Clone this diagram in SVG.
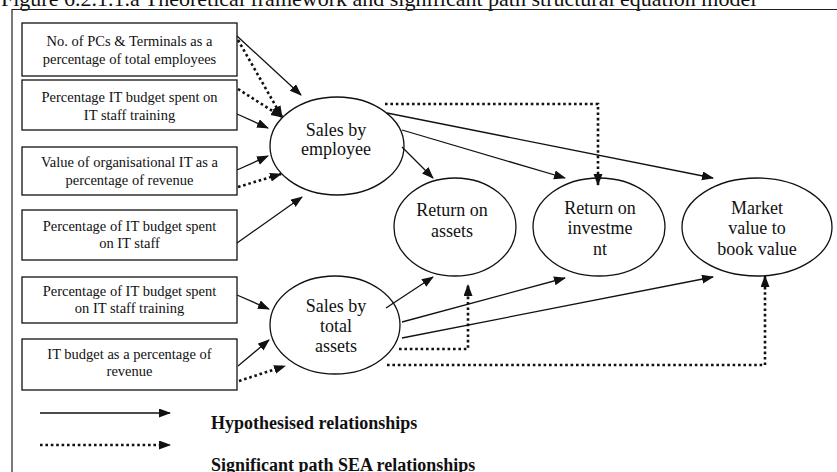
<svg xmlns="http://www.w3.org/2000/svg" width="837" height="472" viewBox="0 0 837 472">
  <style>
    .frame { fill: none; stroke: #222; stroke-width: 1.2; }
    .box { fill: #fff; stroke: #111; stroke-width: 1.3; }
    .node { fill: #fff; stroke: #111; stroke-width: 1.3; }
    .btxt { font-family: "Liberation Serif", "Times New Roman", serif; font-size: 14.5px; fill: #111; text-anchor: middle; }
    .etxt { font-family: "Liberation Serif", "Times New Roman", serif; font-size: 18px; fill: #111; text-anchor: middle; }
    .title { font-family: "Liberation Serif", "Times New Roman", serif; font-size: 22px; fill: #111; }
    .legend { font-family: "Liberation Serif", "Times New Roman", serif; font-size: 18px; font-weight: bold; fill: #111; }
    .hyp { fill: none; stroke: #111; stroke-width: 1.3; marker-end: url(#head); }
    .sig { fill: none; stroke: #111; stroke-width: 2.6; stroke-dasharray: 2.6 2.8; marker-end: url(#head); }
  </style>
  <defs>
    <marker id="head" markerUnits="userSpaceOnUse" markerWidth="14" markerHeight="10" refX="11" refY="4.5" orient="auto">
      <path d="M0,0 L12,4.5 L0,9 Z" fill="#111"/>
    </marker>
  </defs>

  <rect width="837" height="472" fill="#fff"/>

  <!-- caption -->
  <text class="title" x="1" y="6">Figure 6.2.1.1.a Theoretical framework and significant path structural equation model</text>

  <!-- outer frame -->
  <path class="frame" d="M12,472 L12,9.5 L837,9.5"/>

  <!-- indicator boxes -->
  <g id="pcs-terminals">
    <rect class="box" x="22" y="23" width="215" height="53"/>
    <text class="btxt" x="129.5" y="46">No. of PCs &amp; Terminals as a</text>
    <text class="btxt" x="129.5" y="64">percentage of total employees</text>
  </g>
  <g id="budget-training-1">
    <rect class="box" x="22" y="80" width="215" height="50"/>
    <text class="btxt" x="129.5" y="102">Percentage IT budget spent on</text>
    <text class="btxt" x="129.5" y="119.5">IT staff training</text>
  </g>
  <g id="organisational-it">
    <rect class="box" x="22" y="147" width="215" height="48"/>
    <text class="btxt" x="129.5" y="167">Value of organisational IT as a</text>
    <text class="btxt" x="129.5" y="184.5">percentage of revenue</text>
  </g>
  <g id="budget-staff">
    <rect class="box" x="22" y="210" width="215" height="50"/>
    <text class="btxt" x="129.5" y="231">Percentage of IT budget spent</text>
    <text class="btxt" x="129.5" y="248">on IT staff</text>
  </g>
  <g id="budget-training-2">
    <rect class="box" x="22" y="277" width="215" height="46"/>
    <text class="btxt" x="129.5" y="296">Percentage of IT budget spent</text>
    <text class="btxt" x="129.5" y="313">on IT staff training</text>
  </g>
  <g id="budget-revenue">
    <rect class="box" x="22" y="339" width="215" height="51"/>
    <text class="btxt" x="129.5" y="359">IT budget as a percentage of</text>
    <text class="btxt" x="129.5" y="376">revenue</text>
  </g>

  <!-- latent constructs -->
  <g id="sales-employee">
    <ellipse class="node" cx="337" cy="146" rx="67" ry="49"/>
    <text class="etxt" x="336" y="136">Sales by</text>
    <text class="etxt" x="336" y="155">employee</text>
  </g>
  <g id="sales-assets">
    <ellipse class="node" cx="335" cy="325" rx="65" ry="49"/>
    <text class="etxt" x="336" y="312">Sales by</text>
    <text class="etxt" x="336" y="332">total</text>
    <text class="etxt" x="336" y="352">assets</text>
  </g>
  <g id="return-assets">
    <ellipse class="node" cx="455" cy="227" rx="61" ry="49"/>
    <text class="etxt" x="452" y="216">Return on</text>
    <text class="etxt" x="452" y="237">assets</text>
  </g>
  <g id="return-investment">
    <ellipse class="node" cx="599" cy="227" rx="66" ry="49"/>
    <text class="etxt" x="600" y="214">Return on</text>
    <text class="etxt" x="600" y="234">investme</text>
    <text class="etxt" x="600" y="255">nt</text>
  </g>
  <g id="market-book">
    <ellipse class="node" cx="757" cy="227" rx="75" ry="49"/>
    <text class="etxt" x="757" y="214">Market</text>
    <text class="etxt" x="757" y="234">value to</text>
    <text class="etxt" x="757" y="255">book value</text>
  </g>

  <!-- paths -->
  <g id="connectors">
    <!-- into sales by employee -->
    <path class="hyp" d="M237,36 L301,95"/>
    <path class="sig" d="M238,40 L282,117"/>
    <path class="sig" d="M238,89 L282,117"/>
    <path class="hyp" d="M237,114 L268,128"/>
    <path class="hyp" d="M237,170 L268,156"/>
    <path class="sig" d="M238,187 L281,174"/>
    <path class="hyp" d="M237,243 L302,197"/>
    <!-- into sales by total assets -->
    <path class="hyp" d="M237,295 L269,309"/>
    <path class="hyp" d="M238,366 L269,340"/>
    <path class="sig" d="M239,381 L285,366"/>
    <!-- from sales by employee -->
    <path class="hyp" d="M387,113 L713,178"/>
    <path class="hyp" d="M402,130 L565,178"/>
    <path class="hyp" d="M402,147 L433,178"/>
    <path class="sig" d="M385,104 L598,104 L598,185"/>
    <!-- from sales by total assets -->
    <path class="hyp" d="M386,308 L433,277"/>
    <path class="hyp" d="M402,322 L565,278"/>
    <path class="hyp" d="M402,338 L713,277"/>
    <path class="sig" d="M399,349 L468,349 L468,285"/>
    <path class="sig" d="M387,365 L765,365 L765,276"/>
  </g>

  <!-- key -->
  <g id="key">
    <path class="hyp" d="M40,413 L170,413"/>
    <path class="sig" d="M40,445 L170,445"/>
    <text class="legend" x="211" y="429">Hypothesised relationships</text>
    <text class="legend" x="211" y="471">Significant path SEA relationships</text>
  </g>
</svg>
